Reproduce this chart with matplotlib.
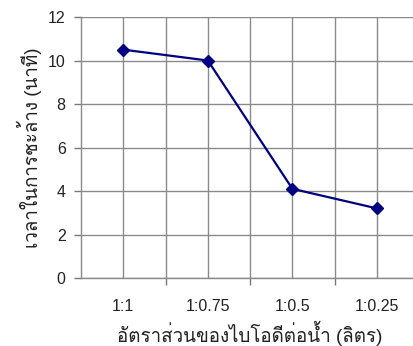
import matplotlib
matplotlib.use("Agg")
import matplotlib.pyplot as plt
from matplotlib import font_manager
from matplotlib.ft2font import FT2Font

# Wash time versus biodiesel-to-water ratio
categories = ["1:1", "1:0.75", "1:0.5", "1:0.25"]
wash_minutes = [10.5, 10.0, 4.1, 3.2]
y_ticks = [0, 2, 4, 6, 8, 10, 12]

x_label = "อัตราส่วนของไบโอดีต่อน้ำ (ลิตร)"
y_label = "เวลาในการชะล้าง (นาที)"


def families_with(char):
    """Installed font families that contain a glyph for ``char``."""
    found = []
    for entry in font_manager.fontManager.ttflist:
        try:
            if FT2Font(entry.fname).get_char_index(ord(char)):
                if entry.name not in found:
                    found.append(entry.name)
        except Exception:
            pass
    return found


thai_families = families_with("ก")
plt.rcParams["font.family"] = ["Liberation Sans"] + thai_families + ["DejaVu Sans"]

fig = plt.figure(figsize=(4.14, 3.46), dpi=100)
ax = fig.add_axes([0.1957, 0.1965, 0.817, 0.7543])

xs = list(range(len(categories)))
ax.plot(xs, wash_minutes, color="#000080", linewidth=1.6, marker="D",
        markersize=6, markerfacecolor="#000080", markeredgecolor="#000080",
        zorder=3)

ax.set_xlim(-0.5, len(categories) - 0.5)
ax.set_ylim(0, 12)
ax.set_yticks(y_ticks)

# boundaries between categories carry the tick marks; centres carry labels
ax.set_xticks([i + 0.5 for i in range(len(categories) - 1)])
ax.set_xticklabels([])
ax.set_xticks(xs, minor=True)
ax.set_xticklabels(categories, minor=True)
ax.tick_params(axis="x", which="major", length=5, color="#777777", width=1)
ax.tick_params(axis="x", which="minor", length=0, pad=15, labelsize=11.5,
               labelcolor="#222222")
ax.tick_params(axis="y", length=5, color="#777777", width=1, labelsize=11.5,
               labelcolor="#222222", pad=6)

ax.grid(True, which="both", axis="x", color="#8a8a8a", linewidth=1)
ax.grid(True, which="major", axis="y", color="#8a8a8a", linewidth=1)
ax.set_axisbelow(True)

for side in ("top", "right"):
    ax.spines[side].set_visible(False)
for side in ("left", "bottom"):
    ax.spines[side].set_color("#8a8a8a")
    ax.spines[side].set_linewidth(1)

ax.set_xlabel(x_label, fontsize=13.5, color="#222222", labelpad=5)
ax.set_ylabel(y_label, fontsize=13.5, color="#222222", labelpad=4)

fig.savefig("out.png", dpi=100)
